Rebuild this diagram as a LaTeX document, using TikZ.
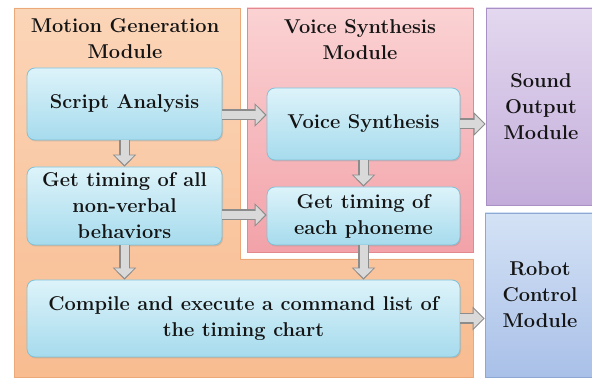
\documentclass[tikz,border=0pt]{standalone}
\usepackage{tikz}
\usetikzlibrary{arrows.meta,shadows,positioning}
\definecolor{motionedge}{HTML}{EBA878}
\definecolor{motiontop}{HTML}{FBD5B8}
\definecolor{motionbot}{HTML}{F8BC90}
\definecolor{voiceedge}{HTML}{E48890}
\definecolor{voicetop}{HTML}{FBD2D3}
\definecolor{voicebot}{HTML}{F2A2A9}
\definecolor{soundedge}{HTML}{A890C4}
\definecolor{soundtop}{HTML}{E3D8EF}
\definecolor{soundbot}{HTML}{C3ACDA}
\definecolor{robotedge}{HTML}{8EA8D4}
\definecolor{robottop}{HTML}{D4E2F5}
\definecolor{robotbot}{HTML}{A9C0E8}
\definecolor{procedge}{HTML}{82C2D8}
\definecolor{proctop}{HTML}{DDF3FA}
\definecolor{procbot}{HTML}{A6DBED}
\definecolor{arrowedge}{HTML}{8C8C8C}
\definecolor{arrowfill}{HTML}{D9D9D9}
\begin{document}
\begin{tikzpicture}[x=1pt,y=-1pt,
   txt/.style={font=\fontsize{20}{26}\selectfont\bfseries,align=center,text=black!92},
   proc/.style={txt,rounded corners=8pt,draw=procedge,line width=0.8pt,
      top color=proctop,bottom color=procbot,inner sep=0pt,
      drop shadow={opacity=0.25,shadow xshift=1pt,shadow yshift=-1.5pt}},
   module/.style={txt,inner sep=0pt,line width=0.6pt},
   fatarrow/.style={draw=arrowedge,line width=11pt,-{Triangle[length=12pt,width=23pt]},
      postaction={draw=arrowfill,line width=8pt,shorten >=1.6pt,
      -{Triangle[length=9.5pt,width=18.5pt]}}}]
   \useasboundingbox (0,0) rectangle (592,379);
   \draw[draw=motionedge,top color=motiontop,bottom color=motionbot,line width=0.6pt]
      (14,8) -| (240,259) -| (473,377) -| cycle;
   \draw[draw=voiceedge,top color=voicetop,bottom color=voicebot,line width=0.6pt]
      (247,8) rectangle (473,252);
   \node[txt] (mg) at (125,39) {Motion Generation\\Module};
   \node[txt] (vm) at (360,40) {Voice Synthesis\\Module};
   \node[module,draw=soundedge,top color=soundtop,bottom color=soundbot,
      minimum width=110pt,minimum height=197pt] (so) at (541,106.5) {Sound\\Output\\Module};
   \node[module,draw=robotedge,top color=robottop,bottom color=robotbot,
      minimum width=110pt,minimum height=164pt] (rc) at (540,295) {Robot\\Control\\Module};
   \node[proc,minimum width=195pt,minimum height=72pt] (sa) at (124.5,104) {Script Analysis};
   \node[proc,minimum width=195pt,minimum height=78pt] (ga) at (124.5,206)
      {Get timing of all\\non-verbal\\behaviors};
   \node[proc,minimum width=193pt,minimum height=72pt] (vs) at (363.5,124) {Voice Synthesis};
   \node[proc,minimum width=193pt,minimum height=58pt] (gp) at (363.5,216)
      {Get timing of\\each phoneme};
   \node[proc,minimum width=433pt,minimum height=77pt] (cc) at (243.5,318.5)
      {Compile and execute a command list of\\the timing chart};
   \draw[fatarrow] ([yshift=-11pt]sa.east) -- ([yshift=-11pt]sa.east -| vs.west);
   \draw[fatarrow] (vs.east) -- (vs.east -| so.west);
   \draw[fatarrow] (sa.south) -- (ga.north);
   \draw[fatarrow] (vs.south) -- (gp.north);
   \draw[fatarrow] ([yshift=-9pt]ga.east) -- ([yshift=-9pt]ga.east -| gp.west);
   \draw[fatarrow] (ga.south) -- (ga.south |- cc.north);
   \draw[fatarrow] (gp.south) -- (gp.south |- cc.north);
   \draw[fatarrow] (cc.east) -- (cc.east -| rc.west);
\end{tikzpicture}
\end{document}
